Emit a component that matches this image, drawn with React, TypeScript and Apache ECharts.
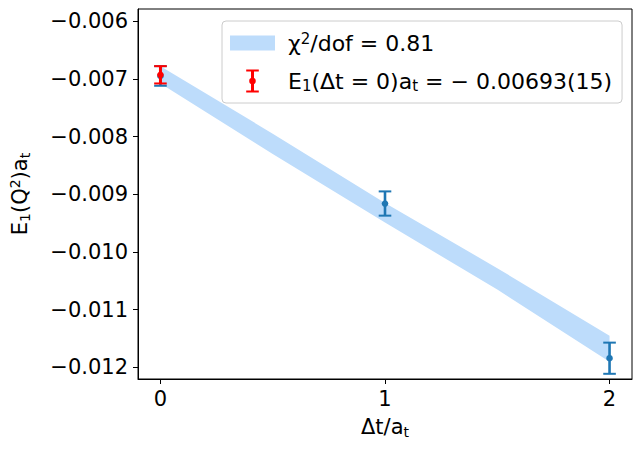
import React, { useEffect, useRef } from "react";
import * as echarts from "echarts";

// ---- data ----
const bandX = [0, 0.5, 1, 1.5, 2];
const bandLower = [-0.00708, -0.0083, -0.00949, -0.01065, -0.0119];
const bandUpper = [-0.00678, -0.00795, -0.00915, -0.01028, -0.01145];

const pointX = [0, 1, 2];
const pointY = [-0.00695, -0.00916, -0.01184];
const pointErr = [0.00017, 0.00021, 0.00027];

const extrapX = [0];
const extrapY = [-0.00693];
const extrapErr = [0.00015];

const xTicks = [0, 1, 2];
const yTicks = [-0.012, -0.011, -0.01, -0.009, -0.008, -0.007, -0.006];

const FONT = "DejaVu Sans";
const BLUE = "#1f77b4";
const RED = "#ff0000";
const BAND = "#bddcfb";

const rich = {
  n: { fontFamily: FONT, fontSize: 21, lineHeight: 24, color: "#000" },
  sup: { fontFamily: FONT, fontSize: 14, lineHeight: 14, verticalAlign: "top", color: "#000" },
  sub: { fontFamily: FONT, fontSize: 14, lineHeight: 14, verticalAlign: "bottom", color: "#000" },
};
const legendRich = {
  n: { fontFamily: FONT, fontSize: 22, lineHeight: 24, color: "#000" },
  sup: { fontFamily: FONT, fontSize: 15, lineHeight: 15, verticalAlign: "top", color: "#000" },
  sub: { fontFamily: FONT, fontSize: 15, lineHeight: 15, verticalAlign: "bottom", color: "#000" },
};

const errorBarRender = (color: string, stemW: number) => (params: any, api: any) => {
  const x = api.value(0);
  const y = api.value(1);
  const e = api.value(2);
  const top = api.coord([x, y + e]);
  const bot = api.coord([x, y - e]);
  const c = api.coord([x, y]);
  const hw = 6.3;
  return {
    type: "group",
    children: [
      { type: "line", shape: { x1: top[0], y1: top[1], x2: bot[0], y2: bot[1] }, style: { stroke: color, lineWidth: stemW } },
      { type: "line", shape: { x1: top[0] - hw, y1: top[1], x2: top[0] + hw, y2: top[1] }, style: { stroke: color, lineWidth: 2 } },
      { type: "line", shape: { x1: bot[0] - hw, y1: bot[1], x2: bot[0] + hw, y2: bot[1] }, style: { stroke: color, lineWidth: 2 } },
      { type: "circle", shape: { cx: c[0], cy: c[1], r: 3.3 }, style: { fill: color } },
    ],
  };
};

const bandRender = (params: any, api: any) => {
  if (params.dataIndex !== 0) return null;
  const upper = bandX.map((x, i) => api.coord([x, bandUpper[i]]));
  const lower = bandX.map((x, i) => api.coord([x, bandLower[i]])).reverse();
  return {
    type: "polygon",
    shape: { points: upper.concat(lower) },
    style: { fill: BAND, stroke: "none" },
  };
};

const rectIcon = "path://M0,0h0.01v0.01h-0.01zM0,4h45v15h-45zM44.99,22.99h0.01v0.01h-0.01z";
const ebIcon =
  "path://M0,11.5h0.01v0.01h-0.01zM44.99,11.5h0.01v0.01h-0.01z" +
  "M16.2,0h12.6v2h-12.6zM16.2,21h12.6v2h-12.6zM21,0h3v23h-3z" +
  "M19.2,11.5a3.3,3.3 0 1,1 6.6,0a3.3,3.3 0 1,1 -6.6,0z";

export default function App() {
  const ref = useRef<HTMLDivElement>(null);
  useEffect(() => {
    document.body.style.margin = "0";
    const chart = echarts.init(ref.current!, undefined, { renderer: "svg" });
    const option: any = {
      animation: false,
      backgroundColor: "#fff",
      textStyle: { fontFamily: FONT },
      grid: {
        left: 137,
        right: 10,
        top: 9,
        bottom: 73,
        show: true,
        borderColor: "#000",
        borderWidth: 1,
        backgroundColor: "transparent",
      },
      legend: {
        orient: "vertical",
        left: 222,
        top: 21,
        padding: [10, 10, 10, 8],
        itemWidth: 45,
        itemHeight: 23,
        itemGap: 15,
        borderColor: "#cccccc",
        borderWidth: 1,
        borderRadius: 4,
        backgroundColor: "rgba(255,255,255,0.8)",
        data: [
          { name: "fit", icon: rectIcon },
          { name: "extrap", icon: ebIcon },
        ],
        formatter: (name: string) =>
          name === "fit"
            ? "{n|χ}{sup|2}{n|/dof = 0.81}"
            : "{n|E}{sub|1}{n|(Δt = 0)a}{sub|t}{n| = − 0.00693(15)}",
        textStyle: { fontFamily: FONT, fontSize: 22, color: "#000", padding: [0, 0, 0, 8], rich: legendRich },
      },
      xAxis: {
        type: "value",
        min: -0.1,
        max: 2.1,
        name: "{n|Δt/a}{sub|t}",
        nameLocation: "middle",
        nameGap: 36,
        nameTextStyle: { rich },
        axisLine: { show: true, onZero: false, lineStyle: { color: "#000", width: 1 } },
        axisTick: { show: true, length: 5, customValues: xTicks, lineStyle: { color: "#000", width: 1 } },
        axisLabel: {
          customValues: xTicks,
          margin: 9,
          fontFamily: FONT,
          fontSize: 21,
          color: "#000",
          formatter: (v: number) => String(v),
        },
        splitLine: { show: false },
      },
      yAxis: {
        type: "value",
        min: -0.0122,
        max: -0.00579,
        name: "{n|E}{sub|1}{n|(Q}{sup|2}{n|)a}{sub|t}",
        nameLocation: "middle",
        nameRotate: 90,
        nameGap: 106,
        nameTextStyle: { rich },
        axisLine: { show: true, onZero: false, lineStyle: { color: "#000", width: 1 } },
        axisTick: { show: true, length: 5, customValues: yTicks, lineStyle: { color: "#000", width: 1 } },
        axisLabel: {
          customValues: yTicks,
          margin: 10,
          fontFamily: FONT,
          fontSize: 21,
          color: "#000",
          formatter: (v: number) => v.toFixed(3).replace("-", "−"),
        },
        splitLine: { show: false },
      },
      series: [
        {
          name: "fit",
          type: "custom",
          silent: true,
          itemStyle: { color: BAND },
          renderItem: bandRender,
          data: bandX.map((x, i) => [x, bandLower[i], bandUpper[i]]),
          encode: { x: 0, y: [1, 2] },
          z: 1,
        },
        {
          name: "points",
          type: "custom",
          itemStyle: { color: BLUE },
          renderItem: errorBarRender(BLUE, 2.6),
          data: pointX.map((x, i) => [x, pointY[i], pointErr[i]]),
          z: 3,
        },
        {
          name: "extrap",
          type: "custom",
          itemStyle: { color: RED },
          renderItem: errorBarRender(RED, 3),
          data: extrapX.map((x, i) => [x, extrapY[i], extrapErr[i]]),
          z: 4,
        },
      ],
    };
    chart.setOption(option);
    return () => chart.dispose();
  }, []);
  return <div ref={ref} style={{ width: 642, height: 452 }} />;
}
